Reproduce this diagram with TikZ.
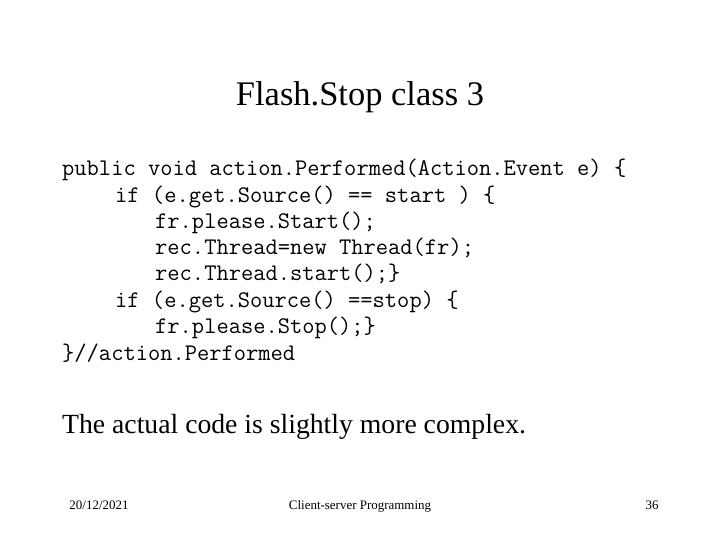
\documentclass[tikz,border=0pt]{standalone}
\usepackage{fontspec}
\setmainfont{Liberation Serif}
\begin{document}
\begin{tikzpicture}[x=1bp,y=-1bp,
  code/.style={anchor=base west,inner sep=0pt,font=\ttfamily\fontsize{23.9}{24}\selectfont},
  txt/.style={inner sep=0pt},
  foot/.style={inner sep=0pt,anchor=base,font=\fontsize{13}{13}\selectfont}]
\useasboundingbox (0,0) rectangle (720,540);
\node[txt,font=\fontsize{34.6}{35}\selectfont] (title) at (360,97) {Flash.Stop class 3};
\node[code] (l1) at (62,176) {public void action.Performed(Action.Event e) \{};
\node[code] (l2) at (115,202.5) {if (e.get.Source() == start ) \{};
\node[code] (l3) at (155,228.5) {fr.please.Start();};
\node[code] (l4) at (155,254.5) {rec.Thread=new Thread(fr);};
\node[code] (l5) at (155,280.5) {rec.Thread.start();\}};
\node[code] (l6) at (115,307) {if (e.get.Source() ==stop) \{};
\node[code] (l7) at (155,333.5) {fr.please.Stop();\}};
\node[code] (l8) at (62,360) {\}//action.Performed};
\node[txt,anchor=base west,font=\fontsize{27.8}{28}\selectfont] (body) at (62,433) {The actual code is slightly more complex.};
\node[foot] (date) at (99,509) {20/12/2021};
\node[foot] (footer) at (360,509) {Client-server Programming};
\node[foot] (num) at (652,509) {36};
\end{tikzpicture}
\end{document}
